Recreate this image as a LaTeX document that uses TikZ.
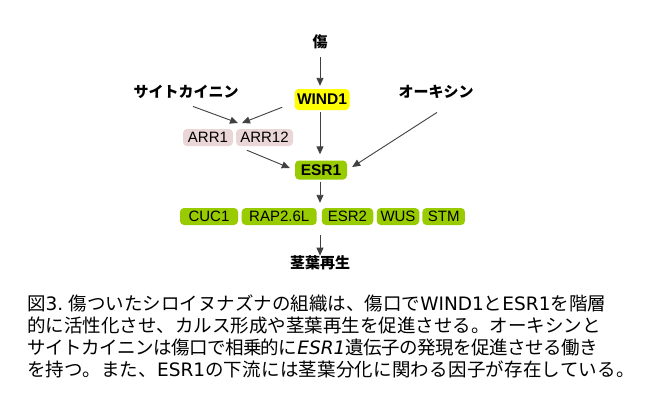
\documentclass[tikz,border=0pt]{standalone}
\usepackage{fontspec}
\setmainfont{Liberation Sans}
\newfontfamily\jp{Noto Sans CJK JP}
\newfontfamily\lat{DejaVu Sans}
\usetikzlibrary{arrows.meta}
\definecolor{grn}{RGB}{153,204,0}
\definecolor{yel}{RGB}{255,255,0}
\definecolor{pnk}{RGB}{234,214,214}
\definecolor{arrc}{RGB}{64,64,64}
\newcommand{\la}[1]{{\lat #1}}
\tikzset{
  lbl/.style={font=\jp\bfseries\fontsize{15}{18}\selectfont, inner sep=0pt},
  gbox/.style={rounded corners=4pt, inner sep=0pt, font=\fontsize{15}{18}\selectfont},
  bbox/.style={gbox, font=\bfseries\fontsize{15.5}{18}\selectfont},
  arr/.style={draw=arrc, line width=0.9pt, -{Triangle[length=8pt,width=7pt]}, arrc},
  captxt/.style={font=\jp\fontsize{18.5}{22}\selectfont, anchor=base west, inner sep=0pt}
}
\begin{document}
\begin{tikzpicture}[x=1pt,y=-1pt]
\useasboundingbox[fill=white] (0,0) rectangle (649,410);
% labels
\node[lbl] (kizu) at (320,42) {傷};
\node[lbl] (cyto) at (186,92) {サイトカイニン};
\node[lbl] (aux) at (436,92) {オーキシン};
\node[lbl] (regen) at (320,263) {茎葉再生};
% boxes
\node[bbox, fill=yel, minimum width=55pt, minimum height=21pt] (wind1) at (322,99.5) {WIND1};
\node[gbox, fill=pnk, minimum width=50pt, minimum height=17pt] (arr1) at (208,137.5) {ARR1};
\node[gbox, fill=pnk, minimum width=57pt, minimum height=17pt] (arr12) at (264.5,137.5) {ARR12};
\node[bbox, fill=grn, minimum width=52pt, minimum height=19pt] (esr1) at (321,170) {ESR1};
\node[gbox, fill=grn, minimum width=58pt, minimum height=17pt] (cuc1) at (209,216.5) {CUC1};
\node[gbox, fill=grn, minimum width=75pt, minimum height=17pt] (rap) at (279.2,216.5) {RAP2.6L};
\node[gbox, fill=grn, minimum width=51.5pt, minimum height=17pt] (esr2) at (347.5,216.5) {ESR2};
\node[gbox, fill=grn, minimum width=42.5pt, minimum height=17pt] (wus) at (398,216.5) {WUS};
\node[gbox, fill=grn, minimum width=42.5pt, minimum height=17pt] (stm) at (443.7,216.5) {STM};
\coordinate (jA) at (238,123);
\coordinate (jB) at (242,123);
% arrows
\draw[arr, shorten <=8pt, shorten >=3pt] (kizu.south) -- (kizu.south |- wind1.north);
\draw[arr] ([xshift=7pt,yshift=-7.5pt]cyto.south) -- (jA);
\draw[arr] ([xshift=-12pt,yshift=3pt]wind1.south west) -- (jB);
\draw[arr, shorten <=2pt, shorten >=6pt] (kizu.south |- wind1.south) -- (kizu.south |- esr1.north);
\draw[arr] ([xshift=11pt,yshift=-4pt]arr12.south west) -- ([xshift=-5pt,yshift=2pt]esr1.west);
\draw[arr] ([xshift=1pt,yshift=-13.5pt]aux.south) -- ([xshift=5pt,yshift=3pt]esr1.east);
\draw[arr, shorten <=2pt, shorten >=5pt] (kizu.south |- esr1.south) -- (kizu.south |- rap.north);
\draw[arr, shorten <=10pt, shorten >=0pt] (kizu.south |- rap.south) -- (regen.north);
% caption
\node[captxt] (c1) at (27,310) {図\la{3.} 傷ついたシロイヌナズナの組織は、傷口で\la{WIND1}と\la{ESR1}を階層};
\node[captxt] (c2) at (27,332) {的に活性化させ、カルス形成や茎葉再生を促進させる。オーキシンと};
\node[captxt] (c3) at (27,354) {\addfontfeature{LetterSpace=-2.8}サイトカイニンは傷口で相乗的に{\lat\itshape ESR1}遺伝子の発現を促進させる働き};
\node[captxt] (c4) at (27,376) {\addfontfeature{LetterSpace=1.1}を持つ。また、\la{ESR1}の下流には茎葉分化に関わる因子が存在している。};
\end{tikzpicture}
\end{document}
